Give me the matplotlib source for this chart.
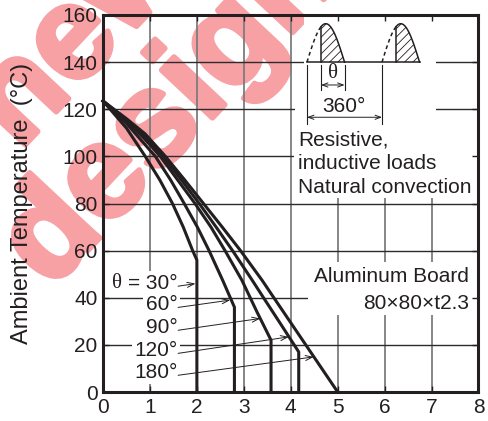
import numpy as np
import matplotlib
matplotlib.use("Agg")
import matplotlib.pyplot as plt
import matplotlib.patheffects as pe
from matplotlib.patches import Rectangle

plt.rcParams['font.family'] = ['Liberation Sans', 'DejaVu Sans']
plt.rcParams['hatch.linewidth'] = 0.6

## derating curves: ambient temperature vs. current, one per conduction angle
angles = [30, 60, 90, 120, 180]

c30_x = [0.0, 0.5, 0.9, 1.21, 1.48, 1.71, 1.91, 2.0, 2.0]
c30_t = [123.5, 112, 100, 90, 80, 70, 60, 56, 0]

c60_x = [0.0, 0.5, 1.115, 1.44, 1.73, 2.01, 2.26, 2.55, 2.8, 2.8]
c60_t = [123.5, 114, 100, 90, 80, 70, 60, 47.4, 36, 0]

c90_x = [0.0, 0.5, 0.86, 1.22, 1.59, 1.96, 2.3, 2.6, 2.96, 3.28, 3.58, 3.58]
c90_t = [123.5, 115, 108, 100, 90, 80, 70, 60, 47.4, 34, 22, 0]

c120_x = [0.0, 0.5, 0.88, 1.28, 1.67, 2.05, 2.41, 2.76, 3.18, 3.42, 3.8, 4.17, 4.17]
c120_t = [123.5, 115.5, 108.5, 100, 90, 80, 70, 60, 47.4, 40, 28.4, 17, 0]

c180_x = [0.0, 0.5, 0.9, 1.33, 1.74, 2.14, 2.54, 2.93, 3.39, 3.64, 4.32, 5.0]
c180_t = [123.5, 116, 109.5, 100, 90, 80, 70, 60, 47.4, 40, 20, 0]

curves_x = [c30_x, c60_x, c90_x, c120_x, c180_x]
curves_t = [c30_t, c60_t, c90_t, c120_t, c180_t]

# leader labels (right edge x, centre y) and the point each leader touches
label_text = ['= 30°', '60°', '90°', '120°', '180°']
label_t = [46.2, 37.2, 27.5, 17.7, 8.4]
leader_end_x = [1.97, 2.71, 3.35, 3.96, 4.49]
leader_end_t = [46.0, 39.0, 31.2, 23.4, 14.9]

xticks = [0, 1, 2, 3, 4, 5, 6, 7, 8]
yticks = [0, 20, 40, 60, 80, 100, 120, 140, 160]

ink = '#231f20'

fig = plt.figure(figsize=(4.89, 4.21), dpi=100)

# "not recommended" stamp sitting behind the whole chart
stamp = '#f7a1a5'
heavy = [pe.withStroke(linewidth=4, foreground=stamp)]
fig.text(195 / 489, 1 + 36 / 421, 'Not recommended for new', fontsize=95,
         fontweight='bold', color=stamp, rotation=46.8, rotation_mode='anchor',
         ha='right', va='baseline', zorder=-1, path_effects=heavy)
fig.text(50.5 / 489, 1 - 290.3 / 421, 'design', fontsize=95, fontweight='bold',
         color=stamp, rotation=46.8, rotation_mode='anchor', ha='left',
         va='baseline', zorder=-1, path_effects=heavy)

ax = fig.add_axes([103 / 489, 1 - 392 / 421, 375.5 / 489, 377 / 421])
ax.patch.set_facecolor('none')
ax.set_xlim(0, 8)
ax.set_ylim(0, 160)
ax.set_xticks(xticks)
ax.set_yticks(yticks)
ax.tick_params(direction='in', length=4, width=1, top=True, right=True,
               labelsize=15, colors=ink)
ax.tick_params(axis='x', pad=4)
ax.tick_params(axis='y', pad=4)
for s in ax.spines.values():
    s.set_linewidth(2.2)
    s.set_color(ink)

# grid drawn by hand so the white panels can sit over it but under the ticks
for xv in xticks[1:-1]:
    ax.axvline(xv, color='#7d7d7d', lw=1.3, zorder=1)
for yv in yticks[1:-1]:
    ax.axhline(yv, color='#2b2b2b', lw=1.0, zorder=1)

for (x0, y0, x1, y1) in [(4.29, 138.3, 7.10, 160), (4.10, 113.4, 7.10, 138.3),
                         (4.06, 82.2, 8.0, 113.4), (4.37, 32.6, 8.0, 55.1)]:
    ax.add_patch(Rectangle((x0, y0), x1 - x0, y1 - y0, facecolor='white',
                           edgecolor='none', zorder=1.5))

for cx, ct in zip(curves_x, curves_t):
    ax.plot(cx, ct, color=ink, lw=2.2, zorder=3, solid_joinstyle='round',
            clip_on=False)

# angle labels with leaders
box = dict(boxstyle='square,pad=0.12', facecolor='white', edgecolor='none')
for txt, ty, ex, et in zip(label_text, label_t, leader_end_x, leader_end_t):
    ax.text(1.585, ty, txt, fontsize=15, color=ink, ha='right', va='center',
            bbox=box, zorder=4)
    ax.annotate('', xy=(ex, et), xytext=(1.6, ty - 1.3),
                arrowprops=dict(arrowstyle='->,head_length=0.5,head_width=0.18',
                                lw=0.7, color=ink, shrinkA=0, shrinkB=0),
                zorder=4)
ax.text(0.307, 46.0, 'θ', fontsize=15, family='Liberation Serif', color=ink,
        ha='center', va='center', bbox=box, zorder=4)

ax.text(7.79, 49.1, 'Aluminum Board', fontsize=15, color=ink, ha='right',
        va='center', zorder=4)
ax.text(7.79, 37.5, '80×80×t2.3', fontsize=15, color=ink, ha='right',
        va='center', zorder=4)

ax.text(4.165, 106.9, 'Resistive,', fontsize=15, color=ink, ha='left',
        va='center', zorder=4)
ax.text(4.165, 97.1, 'inductive loads', fontsize=15, color=ink, ha='left',
        va='center', zorder=4)
ax.text(4.165, 86.9, 'Natural convection', fontsize=15, color=ink, ha='left',
        va='center', zorder=4)

# phase-control waveform sketch
pulse_starts = [4.346, 5.944]
pulse_w = 0.80
pulse_on = 0.298
base_t = 140
peak_h = 16.3
ax.plot([pulse_starts[0], pulse_starts[1] + pulse_w], [base_t, base_t],
        color=ink, lw=1.1, zorder=4)
for x0 in pulse_starts:
    xs = np.linspace(x0, x0 + pulse_w, 81)
    ys = base_t + peak_h * np.sin(np.pi * (xs - x0) / pulse_w)
    off = xs <= x0 + pulse_on
    on = xs >= x0 + pulse_on
    ax.plot(xs[off], ys[off], color=ink, lw=1.1, ls=(0, (2.5, 2)), zorder=4)
    ax.plot(xs[on], ys[on], color=ink, lw=1.1, zorder=4)
    ax.fill_between(xs[on], base_t, ys[on], facecolor='none', edgecolor=ink,
                    hatch='////', linewidth=0, zorder=4)
    ax.plot([xs[on][0], xs[on][0]], [base_t, ys[on][0]], color=ink, lw=1.1,
            zorder=4)

# dimension marks for theta and the 360 degree period
th0 = pulse_starts[0] + pulse_on
th1 = pulse_starts[0] + pulse_w
for xv in [th0, th1]:
    ax.plot([xv, xv], [138.8, 128.2], color=ink, lw=0.8, zorder=4)
ax.annotate('', xy=(th0, 130.3), xytext=(th1, 130.3),
            arrowprops=dict(arrowstyle='<->,head_length=0.4,head_width=0.15',
                            lw=0.7, color=ink, shrinkA=0, shrinkB=0), zorder=4)
ax.text((th0 + th1) / 2, 135.2, 'θ', fontsize=15, family='Liberation Serif',
        color=ink, ha='center', va='center', zorder=4)
for xv in pulse_starts:
    ax.plot([xv, xv], [138.8, 113.7], color=ink, lw=0.8, zorder=4)
ax.annotate('', xy=(pulse_starts[0], 116.6), xytext=(pulse_starts[1], 116.6),
            arrowprops=dict(arrowstyle='<->,head_length=0.4,head_width=0.15',
                            lw=0.7, color=ink, shrinkA=0, shrinkB=0), zorder=4)
ax.text(5.14, 121.3, '360°', fontsize=15, color=ink, ha='center', va='center',
        zorder=4)

fig.text(22 / 489, 0.5166, 'Ambient Temperature  (°C)', fontsize=17,
         color=ink, rotation=90, ha='center', va='center')

fig.savefig('out.png', dpi=100)
